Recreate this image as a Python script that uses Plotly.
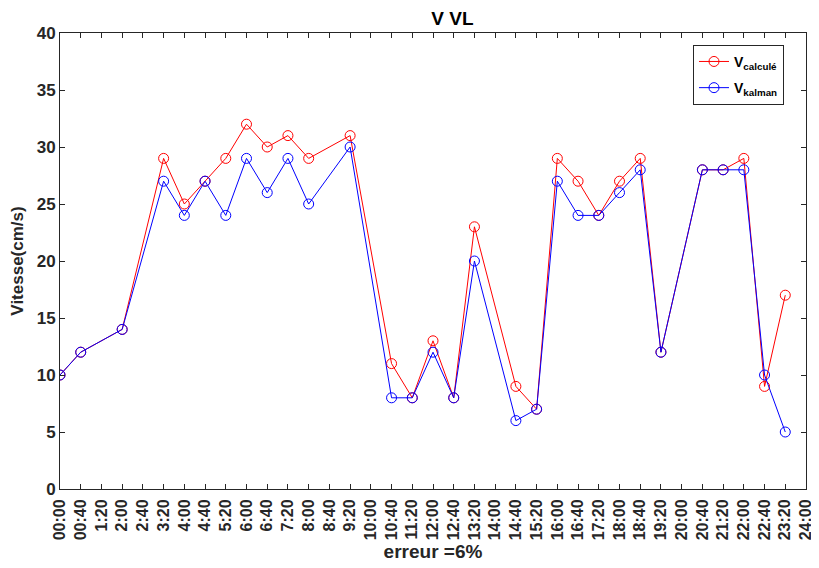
import plotly.graph_objects as go

tick_labels = ["00:00", "00:40", "1:20", "2:00", "2:40", "3:20", "4:00", "4:40", "5:20",
               "6:00", "6:40", "7:20", "8:00", "8:40", "9:20", "10:00", "10:40", "11:20",
               "12:00", "12:40", "13:20", "14:00", "14:40", "15:20", "16:00", "16:40",
               "17:20", "18:00", "18:40", "19:20", "20:00", "20:40", "21:20", "22:00",
               "22:40", "23:20", "24:00"]

times = ["00:00", "00:40", "2:00", "3:20", "4:00", "4:40", "5:20", "6:00", "6:40", "7:20",
         "8:00", "9:20", "10:40", "11:20", "12:00", "12:40", "13:20", "14:40", "15:20",
         "16:00", "16:40", "17:20", "18:00", "18:40", "19:20", "20:40", "21:20", "22:00",
         "22:40", "23:20"]

v_calcule = [10, 12, 14, 29, 25, 27, 29, 32, 30, 31, 29, 31, 11, 8, 13, 8, 23, 9, 7,
             29, 27, 24, 27, 29, 12, 28, 28, 29, 9, 17]
v_kalman = [10, 12, 14, 27, 24, 27, 24, 29, 26, 29, 25, 30, 8, 8, 12, 8, 20, 6, 7,
            27, 24, 24, 26, 28, 12, 28, 28, 28, 10, 5]


def to_min(t):
    h, m = t.split(":")
    return int(h) * 60 + int(m)


x = [to_min(t) for t in times]
tickvals = [to_min(t) for t in tick_labels]

FONT = "Liberation Sans, Arial"

fig = go.Figure()
fig.add_trace(go.Scatter(
    x=x, y=v_calcule, mode="lines+markers", name="V<sub>calculé</sub>", legendgroup="a",
    line=dict(color="#ff0000", width=1),
    marker=dict(symbol="circle-open", size=10, color="#ff0000", line=dict(width=1))))
fig.add_trace(go.Scatter(
    x=x, y=v_kalman, mode="lines+markers", name="V<sub>kalman</sub>", legendgroup="b",
    line=dict(color="#0000ff", width=1),
    marker=dict(symbol="circle-open", size=10, color="#0000ff", line=dict(width=1))))

axis_common = dict(showgrid=False, zeroline=False, showline=True, linecolor="#262626",
                   linewidth=1, mirror="ticks", ticks="inside", ticklen=5,
                   tickcolor="#262626", automargin=False,
                   tickfont=dict(family=FONT, size=16, color="#262626", weight="bold"))

fig.update_xaxes(range=[0, 1440], tickvals=tickvals, ticktext=tick_labels,
                 tickangle=-90, ticklabelstandoff=3,
                 title=dict(text="<b>erreur =6%</b>",
                            font=dict(family=FONT, size=19, color="#262626"), standoff=5),
                 **axis_common)
axis_common["tickfont"] = dict(family=FONT, size=17, color="#262626", weight="bold")
fig.update_yaxes(range=[0, 40], tickvals=list(range(0, 41, 5)),
                 title=dict(text="<b>Vitesse(cm/s)</b>",
                            font=dict(family=FONT, size=17, color="#262626"), standoff=12),
                 **axis_common)

fig.update_layout(
    width=811, height=560,
    margin=dict(l=52, r=13, t=25, b=79),
    paper_bgcolor="white", plot_bgcolor="white",
    title=dict(text="<b>V VL</b>", x=0.548, xanchor="center", y=0.982, yanchor="middle",
               font=dict(family=FONT, size=19, color="#000000")),
    legend=dict(x=0.9705, y=0.974, xanchor="right", yanchor="top",
                bgcolor="white", bordercolor="#262626", borderwidth=1,
                font=dict(family=FONT, size=14, color="#000000", weight="bold"),
                tracegroupgap=5, itemwidth=30),
    showlegend=True,
)

fig.write_html("out.html")
